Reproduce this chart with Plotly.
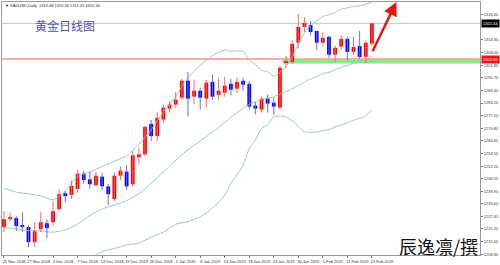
import plotly.graph_objects as go

# ---------------- data ----------------
date_labels = ["21 Nov 2018", "27 Nov 2018", "3 Dec 2018", "7 Dec 2018", "13 Dec 2018",
               "19 Dec 2018", "26 Dec 2018", "2 Jan 2019", "8 Jan 2019", "14 Jan 2019",
               "18 Jan 2019", "24 Jan 2019", "30 Jan 2019", "5 Feb 2019", "11 Feb 2019",
               "15 Feb 2019"]
label_bars = [0, 4, 8, 12, 16, 20, 24, 28, 32, 36, 40, 44, 48, 52, 56, 60]

opens = [1222.2, 1226.1, 1226.6, 1223.2, 1222.2, 1214.8, 1221.2, 1224.1, 1224.6, 1231.0,
         1238.9, 1238.0, 1241.0, 1248.5, 1245.7, 1242.8, 1247.0, 1242.2, 1236.0, 1247.5,
         1249.5, 1243.2, 1256.5, 1258.0, 1273.0, 1267.0, 1275.1, 1280.5, 1282.5, 1285.9,
         1294.2, 1286.4, 1289.3, 1285.4, 1293.7, 1287.3, 1288.3, 1292.7, 1290.3, 1294.2,
         1292.7, 1282.0, 1280.0, 1285.4, 1283.4, 1281.0, 1303.2, 1303.5, 1312.9, 1320.7,
         1321.6, 1318.7, 1312.9, 1315.8, 1307.0, 1311.0, 1314.8, 1308.4, 1311.3, 1306.0,
         1312.48]
highs = [1230.0, 1229.5, 1227.6, 1229.5, 1223.2, 1224.6, 1229.5, 1226.1, 1234.9, 1240.8,
         1239.9, 1245.0, 1250.5, 1250.0, 1249.5, 1249.5, 1249.0, 1243.5, 1249.0, 1252.0,
         1252.5, 1259.5, 1261.0, 1272.0, 1275.0, 1279.0, 1282.5, 1284.0, 1288.8, 1295.2,
         1298.6, 1294.7, 1290.8, 1294.7, 1297.2, 1295.7, 1296.2, 1295.2, 1295.7, 1295.7,
         1294.0, 1283.9, 1286.4, 1287.4, 1285.9, 1301.6, 1306.5, 1314.3, 1327.1, 1325.5,
         1323.6, 1319.0, 1318.0, 1316.5, 1311.5, 1316.5, 1315.5, 1315.8, 1318.8, 1314.0,
         1322.56]
lows = [1219.7, 1225.1, 1220.2, 1219.7, 1212.4, 1212.4, 1219.7, 1216.8, 1222.7, 1230.0,
        1234.4, 1236.0, 1239.0, 1243.5, 1241.0, 1242.0, 1240.5, 1233.0, 1235.0, 1245.5,
        1240.5, 1242.0, 1253.0, 1257.0, 1264.5, 1264.5, 1273.5, 1278.5, 1281.0, 1284.9,
        1276.6, 1282.5, 1280.0, 1281.0, 1284.9, 1285.0, 1286.4, 1286.9, 1288.3, 1289.3,
        1280.0, 1277.6, 1278.5, 1278.5, 1277.6, 1280.0, 1300.5, 1302.5, 1310.0, 1318.0,
        1316.5, 1309.4, 1311.0, 1305.5, 1303.5, 1309.5, 1304.5, 1307.0, 1305.0, 1303.0,
        1311.31]
closes = [1226.1, 1227.1, 1222.7, 1222.2, 1214.8, 1220.2, 1224.6, 1221.7, 1230.0, 1238.4,
          1237.4, 1242.5, 1248.5, 1245.3, 1243.3, 1247.5, 1242.3, 1238.4, 1247.5, 1250.0,
          1242.2, 1257.5, 1258.0, 1271.5, 1267.0, 1276.0, 1281.0, 1282.5, 1284.9, 1294.2,
          1285.4, 1289.3, 1285.9, 1293.3, 1286.4, 1289.3, 1291.8, 1289.8, 1293.7, 1292.2,
          1281.5, 1280.5, 1285.4, 1283.0, 1281.5, 1300.6, 1303.9, 1312.4, 1320.7, 1322.7,
          1318.2, 1312.9, 1315.3, 1307.0, 1310.4, 1314.8, 1308.4, 1310.8, 1305.9, 1312.9,
          1322.44]

band_bars = [0, 2, 4, 6, 8, 10, 12, 14, 16, 18, 20, 22, 24, 26, 28, 30, 32, 34, 36, 37, 38,
             39, 40, 41, 42, 43, 44, 45, 46, 47, 48, 49, 50, 51, 52, 53, 54, 55, 56, 57,
             58, 59, 60]
band_mid = [1222.0, 1221.2, 1220.5, 1220.3, 1219.7, 1220.8, 1223.7, 1227.9, 1231.1, 1233.1,
            1235.3, 1238.6, 1243.7, 1249.3, 1255.1, 1260.3, 1264.5, 1269.0, 1273.6, 1276.2,
            1278.5, 1280.6, 1282.6, 1283.7, 1285.1, 1285.7, 1286.4, 1287.6, 1288.8, 1290.3,
            1292.0, 1293.5, 1295.1, 1296.3, 1297.8, 1298.4, 1299.6, 1300.9, 1301.8, 1302.8,
            1303.4, 1304.5, 1306.5]
band_up = [1241.5, 1239.4, 1238.6, 1237.5, 1235.6, 1239.8, 1247.2, 1249.2, 1252.0, 1254.6,
           1257.2, 1263.0, 1270.1, 1278.9, 1286.6, 1295.7, 1301.8, 1306.6, 1309.3, 1308.6,
           1308.9, 1308.6, 1304.4, 1302.3, 1299.4, 1298.7, 1296.4, 1298.3, 1301.1, 1306.0,
           1312.4, 1317.9, 1321.4, 1323.6, 1325.8, 1326.7, 1327.7, 1329.4, 1330.1, 1330.8,
           1331.1, 1331.9, 1332.9]
band_lo = [1202.5, 1203.0, 1202.4, 1203.1, 1203.8, 1201.8, 1200.2, 1206.6, 1210.2, 1211.7,
           1213.4, 1214.3, 1217.3, 1219.7, 1223.6, 1224.9, 1227.2, 1231.5, 1237.9, 1243.8,
           1248.0, 1252.6, 1260.8, 1265.1, 1270.7, 1272.6, 1276.4, 1276.9, 1276.4, 1274.5,
           1271.7, 1269.1, 1268.8, 1269.0, 1269.7, 1270.2, 1271.5, 1272.5, 1273.5, 1274.8,
           1275.7, 1277.0, 1280.0]

price_ticks = [1208.85, 1215.00, 1221.30, 1227.45, 1233.60, 1239.90, 1246.05, 1252.20,
               1258.50, 1264.65, 1270.80, 1277.10, 1283.25, 1289.40, 1295.70, 1301.85,
               1308.00, 1314.30, 1326.60]

current_price = 1322.44
support_price = 1304.90
support_low = 1302.70
support_start_bar = 45.4
arrow_from = (60.0, 1308.0)
arrow_to = (64.0, 1333.0)

title_text = "▼ XAUUSD,Daily  1312.48 1322.56 1311.31 1322.44"
chart_title = "黄金日线图"
author = "辰逸凛/撰"

# ---------------- figure ----------------
X_RANGE = [-0.324, 77.63]
Y_RANGE = [1208.46, 1332.97]

n = len(closes)
bars = list(range(n))
up = [i for i in bars if closes[i] >= opens[i]]
dn = [i for i in bars if closes[i] < opens[i]]


def wicks(sel):
    xs, ys = [], []
    for i in sel:
        xs += [i, i, None]
        ys += [lows[i], highs[i], None]
    return xs, ys


fig = go.Figure()

band_style = dict(color="#97cfb3", width=1, shape="spline", smoothing=0.7)
for vals in (band_up, band_mid, band_lo):
    fig.add_trace(go.Scatter(x=band_bars, y=vals, mode="lines", line=band_style,
                             hoverinfo="skip"))

wx, wy = wicks(up)
fig.add_trace(go.Scatter(x=wx, y=wy, mode="lines", line=dict(color="#f06a6a", width=1),
                         hoverinfo="skip"))
wx, wy = wicks(dn)
fig.add_trace(go.Scatter(x=wx, y=wy, mode="lines", line=dict(color="#6a6af0", width=1),
                         hoverinfo="skip"))

fig.add_trace(go.Bar(x=up, y=[closes[i] - opens[i] for i in up],
                     base=[opens[i] for i in up], width=0.62,
                     marker=dict(color="#ff0000", line=dict(width=0))))
fig.add_trace(go.Bar(x=dn, y=[opens[i] - closes[i] for i in dn],
                     base=[closes[i] for i in dn], width=0.62,
                     marker=dict(color="#0000ff", line=dict(width=0))))

shapes = [
    dict(type="line", xref="paper", x0=0, x1=1, yref="y", y0=current_price,
         y1=current_price, line=dict(color="#c8c8c8", width=1), layer="below"),
    dict(type="line", xref="paper", x0=0, x1=1, yref="y", y0=support_price,
         y1=support_price, line=dict(color="#f05a5a", width=1), layer="below"),
    dict(type="rect", xref="x", x0=support_start_bar, x1=X_RANGE[1], yref="y",
         y0=support_low, y1=support_price, fillcolor="#86e886",
         line=dict(width=0), layer="below"),
]

annotations = [
    dict(text=title_text, xref="paper", yref="paper", x=0.002, y=0.988,
         xanchor="left", yanchor="middle", showarrow=False,
         font=dict(size=4, color="#222222", family="Liberation Sans")),
    dict(text=chart_title, xref="paper", yref="paper", x=0.064, y=0.906,
         xanchor="left", yanchor="middle", showarrow=False,
         font=dict(size=12, color="#5252a2", family="Noto Sans CJK SC")),
    dict(text=author, xref="paper", yref="paper", x=0.999, y=0.035,
         xanchor="right", yanchor="middle", showarrow=False,
         font=dict(size=18, color="#111111", family="Noto Sans CJK SC")),
    dict(text="", x=arrow_to[0], y=arrow_to[1], ax=arrow_from[0], ay=arrow_from[1],
         xref="x", yref="y", axref="x", ayref="y", showarrow=True,
         arrowhead=2, arrowsize=1.1, arrowwidth=2.5, arrowcolor="#e01818"),
    dict(text=f"{current_price:.2f}", xref="paper", x=1, xanchor="left", xshift=1,
         yref="y", y=current_price, yanchor="middle", showarrow=False,
         bgcolor="#000000", borderpad=1,
         font=dict(size=4, color="#ffffff", family="Liberation Sans")),
    dict(text=f"{support_price:.2f}", xref="paper", x=1, xanchor="left", xshift=1,
         yref="y", y=support_price, yanchor="middle", showarrow=False,
         bgcolor="#ff1010", borderpad=1,
         font=dict(size=4, color="#ffffff", family="Liberation Sans")),
]

fig.update_layout(
    width=500, height=265,
    margin=dict(l=1, r=18, t=2, b=9),
    paper_bgcolor="#ffffff", plot_bgcolor="#ffffff",
    barmode="overlay", showlegend=False,
    shapes=shapes, annotations=annotations,
    xaxis=dict(range=X_RANGE, showgrid=False, zeroline=False,
               showline=True, mirror=True, linecolor="#9a9a9a", linewidth=1,
               ticks="outside", ticklen=2, tickcolor="#777777",
               tickvals=label_bars, ticktext=date_labels, ticklabelshift=10,
               tickangle=0,
               tickfont=dict(size=4, color="#333333", family="Liberation Sans"),
               fixedrange=True),
    yaxis=dict(range=Y_RANGE, side="right", showgrid=False, zeroline=False,
               showline=True, mirror=True, linecolor="#9a9a9a", linewidth=1,
               ticks="outside", ticklen=2, tickcolor="#777777",
               tickvals=price_ticks, ticktext=[f"{v:.2f}" for v in price_ticks],
               tickfont=dict(size=4, color="#333333", family="Liberation Sans"),
               fixedrange=True),
)

fig.write_html("out.html", config={"displayModeBar": False})
